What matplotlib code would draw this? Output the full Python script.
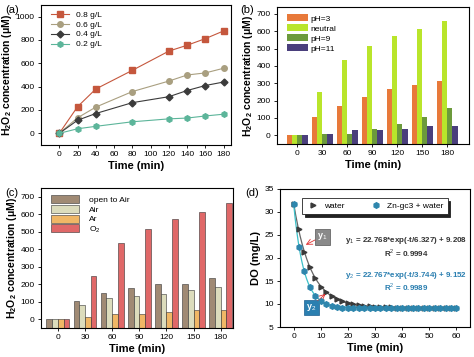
import numpy as np
import matplotlib
matplotlib.use('Agg')
import matplotlib.pyplot as plt

plt.rcParams['font.family'] = ['Liberation Sans', 'DejaVu Sans']
plt.rcParams['mathtext.fontset'] = 'custom'
plt.rcParams['mathtext.rm'] = 'Liberation Sans'
plt.rcParams['mathtext.bf'] = 'Liberation Sans:bold'

# (a) dosage
t_a = [0, 20, 40, 80, 120, 140, 160, 180]
dose_labels = ['0.8 g/L', '0.6 g/L', '0.4 g/L', '0.2 g/L']
c_08 = [0, 228, 380, 540, 705, 755, 812, 878]
c_06 = [0, 133, 225, 358, 448, 500, 518, 558]
c_04 = [0, 112, 170, 263, 314, 367, 410, 440]
c_02 = [0, 39, 60, 99, 124, 131, 149, 164]

# (b) pH
t_bar = ['0', '30', '60', '90', '120', '150', '180']
ph_labels = ['pH=3', 'neutral', 'pH=9', 'pH=11']
ph3 = [0, 108, 170, 220, 265, 292, 312]
ph_neutral = [0, 248, 435, 515, 571, 613, 661]
ph9 = [0, 5, 8, 38, 63, 107, 156]
ph11 = [0, 8, 31, 28, 38, 52, 52]

# (c) atmosphere
gas_labels = ['open to Air', 'Air', 'Ar', 'O$_2$']
g_open = [0, 104, 150, 178, 200, 200, 235]
g_air = [0, 81, 119, 135, 142, 165, 185]
g_ar = [0, 12, 31, 31, 42, 54, 54]
g_o2 = [0, 250, 435, 515, 573, 615, 662]

# (d) dissolved oxygen
t_d = list(range(0, 62, 2))
do_water = [31.8, 26.2, 21.4, 18.0, 15.6, 13.8, 12.6, 11.8, 11.1, 10.6, 10.2,
            9.9, 9.7, 9.6, 9.5, 9.4, 9.3, 9.3, 9.3, 9.2, 9.2, 9.2, 9.2, 9.2,
            9.2, 9.2, 9.2, 9.2, 9.2, 9.2, 9.2]
do_zn = [31.8, 22.5, 17.1, 13.8, 11.8, 10.6, 9.9, 9.5, 9.3, 9.2, 9.2,
         9.1, 9.1, 9.1, 9.1, 9.1, 9.1, 9.1, 9.2, 9.2, 9.2, 9.2, 9.2, 9.2,
         9.2, 9.2, 9.2, 9.2, 9.2, 9.2, 9.2]
fit1 = (22.768, 6.327, 9.208)
fit2 = (22.767, 3.744, 9.152)

fig = plt.figure(figsize=(4.74, 3.57), dpi=100)
W, H = 474, 357


def add_axes(l, t, r, b):
    return fig.add_axes([l / W, 1 - b / H, (r - l) / W, (b - t) / H])


def style(ax):
    ax.tick_params(labelsize=6, length=2.5, width=0.6, pad=2)
    for s in ax.spines.values():
        s.set_linewidth(0.8)
    ax.set_xlabel('Time (min)', fontsize=8, fontweight='bold', labelpad=2)


ylab = r'$\mathbf{H_2O_2}$ concentration (μM)'

# ---- (a)
ax = add_axes(41, 5, 231, 145)
a_colors = ['#c5573d', '#a99f80', '#3b3b3b', '#5cb59a']
a_marks = ['s', 'o', 'D', 'h']
for vals, lab, col, mk in zip([c_08, c_06, c_04, c_02], dose_labels, a_colors, a_marks):
    ax.plot(t_a, vals, color=col, marker=mk, ms=4 if mk != 'D' else 3.5, lw=0.8, label=lab)
ax.set_xlim(-20, 188)
ax.set_ylim(-100, 1100)
ax.set_xticks(range(0, 181, 20))
ax.set_yticks(range(0, 1001, 200))
style(ax)
ax.set_ylabel(ylab, fontsize=7.5, fontweight='bold', labelpad=1)
ax.legend(loc='upper left', bbox_to_anchor=(0.02, 1.0), frameon=False, fontsize=6,
          handlelength=2.2, labelspacing=0.25, borderaxespad=0.3)
fig.text(5 / W, 1 - 10 / H, '(a)', fontsize=8, va='center')

# ---- bars helper
x = np.arange(len(t_bar))
w = 0.21


def bars(ax, series, labels, colors, base, ec, lw):
    for i, (vals, lab, col) in enumerate(zip(series, labels, colors)):
        v = np.array(vals, dtype=float)
        ax.bar(x + (i - 1.5) * w, v - base, bottom=base, width=w, color=col,
               edgecolor=ec, linewidth=lw, label=lab)
    ax.set_xticks(x)
    ax.set_xticklabels(t_bar)


# ---- (b)
ax = add_axes(277, 7, 469, 144)
b_colors = ['#e8793a', '#b9e52b', '#6c9a3c', '#4a3f7c']
bars(ax, [ph3, ph_neutral, ph9, ph11], ph_labels, b_colors, -50, 'none', 0)
ax.set_xlim(-0.8, 6.88)
ax.set_ylim(-50, 740)
ax.set_yticks(range(0, 701, 100))
style(ax)
ax.set_ylabel(ylab, fontsize=7.5, fontweight='bold', labelpad=1)
ax.legend(loc='upper left', bbox_to_anchor=(0.02, 0.99), frameon=False, fontsize=6,
          handlelength=2.6, handleheight=0.9, labelspacing=0.2, handletextpad=0.3,
          borderaxespad=0.3)
fig.text(240 / W, 1 - 10 / H, '(b)', fontsize=8, va='center')

# ---- (c)
ax = add_axes(41, 188, 233, 328)
c_colors = ['#a08a74', '#dcdcbc', '#f0b766', '#e06868']
bars(ax, [g_open, g_air, g_ar, g_o2], gas_labels, c_colors, -50, '#333333', 0.4)
ax.set_xlim(-0.62, 6.45)
ax.set_ylim(-50, 750)
ax.set_yticks(range(0, 701, 100))
style(ax)
ax.set_ylabel(ylab, fontsize=7.5, fontweight='bold', labelpad=1)
ax.legend(loc='upper left', bbox_to_anchor=(0.02, 0.99), frameon=False, fontsize=6,
          handlelength=3.4, handleheight=1.1, labelspacing=0.1, handletextpad=1.2,
          borderaxespad=0.3)
fig.text(5 / W, 1 - 193 / H, '(c)', fontsize=8, va='center')

# ---- (d)
ax = add_axes(280, 189, 470, 327)
tt = np.linspace(0, 60, 300)
ax.plot(tt, fit1[0] * np.exp(-tt / fit1[1]) + fit1[2], color='#666666', lw=0.9, zorder=2)
ax.plot(tt, fit2[0] * np.exp(-tt / fit2[1]) + fit2[2], color='#3cc0c8', lw=0.9, zorder=2)
ax.plot(t_d, do_water, ls='none', marker='>', ms=3.5, color='#3a3a3a', label='water', zorder=3)
ax.plot(t_d, do_zn, ls='none', marker='h', ms=4, color='#2e86ad', label='Zn-gc3 + water', zorder=4)
ax.set_xlim(-5, 65)
ax.set_ylim(5, 35)
ax.set_xticks(range(0, 61, 10))
ax.set_yticks(range(5, 36, 5))
style(ax)
ax.set_ylabel('DO (mg/L)', fontsize=8, fontweight='bold', labelpad=2)
leg = ax.legend(loc='upper center', bbox_to_anchor=(0.5, 0.965), ncol=2, fontsize=6,
                frameon=True, fancybox=False, shadow={'color': '#222222', 'alpha': 1},
                handlelength=1.5, columnspacing=3.0, borderpad=0.5, handletextpad=0.6)
leg.get_frame().set_edgecolor('#222222')
leg.get_frame().set_linewidth(0.6)

ax.text(10.5, 24.6, 'y$_1$', fontsize=6.5, color='white', fontweight='bold', ha='center', va='center',
        bbox=dict(boxstyle='square,pad=0.25', fc='#8a8a8a', ec='#555555', lw=0.5))
ax.annotate('', xy=(3.6, 22.6), xytext=(8.8, 24.2),
            arrowprops=dict(arrowstyle='->', color='#e03030', lw=0.6))
ax.text(6.6, 9.2, 'y$_2$', fontsize=6.5, color='white', fontweight='bold', ha='center', va='center',
        bbox=dict(boxstyle='square,pad=0.25', fc='#2a7fb0', ec='#1a5f90', lw=0.5))
ax.annotate('', xy=(12.5, 12.6), xytext=(8.2, 10.3),
            arrowprops=dict(arrowstyle='->', color='#e03030', lw=0.6))

ax.text(41.5, 23.7, 'y$_1$ = 22.768*exp(-t/6.327) + 9.208', fontsize=5.8, color='#333333',
        ha='center', va='center', fontweight='bold')
ax.text(41.5, 21.0, 'R$^2$ = 0.9994', fontsize=5.8, color='#333333', ha='center', va='center',
        fontweight='bold')
ax.text(41.5, 16.3, 'y$_2$ = 22.767*exp(-t/3.744) + 9.152', fontsize=5.8, color='#2a7fb0',
        ha='center', va='center', fontweight='bold')
ax.text(41.5, 13.6, 'R$^2$ = 0.9989', fontsize=5.8, color='#2a7fb0', ha='center', va='center',
        fontweight='bold')
fig.text(245 / W, 1 - 193 / H, '(d)', fontsize=8, va='center')

fig.savefig('out.png', dpi=100)
